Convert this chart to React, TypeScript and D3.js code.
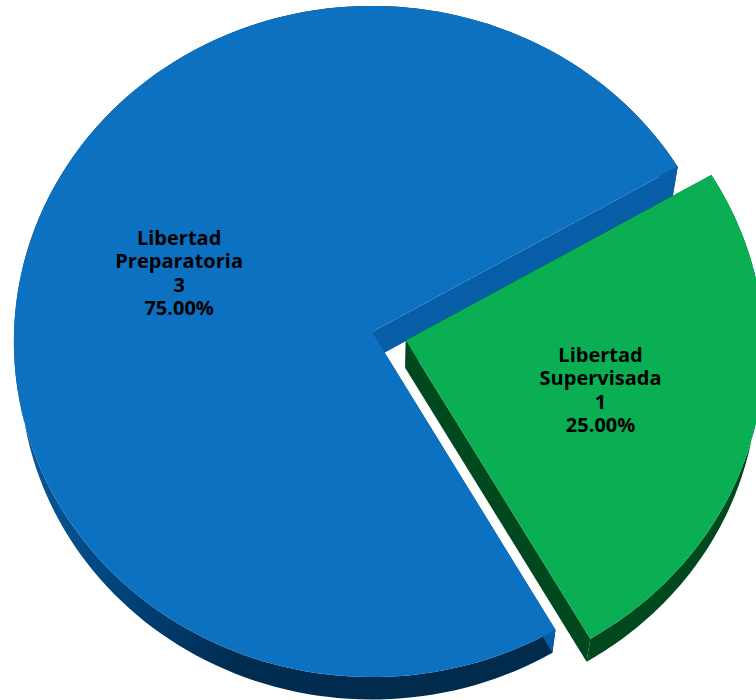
import React from "react";
import * as d3 from "d3";

const categories = ["Libertad Preparatoria", "Libertad Supervisada"];
const values = [3, 1];
const sliced = [false, true];
const topColors = ["#0c71c0", "#09af52"];
const wallColors = ["#075ea6", "#00491e"];
const sideColors = ["url(#blueSide)", "#00491e"];

const W = 756;
const H = 700;
const cx = 372;
const cy = 332;
const R = 358;
const alpha = (20.5 * Math.PI) / 180;
const D = 4428;
const depth = 80;
const explode = 35;
const labelFrac = 0.56;
const lineH = 23.5;

type Pt = [number, number];

function proj(u: number, v: number, h: number): Pt {
  const X = u;
  const Y = v * Math.cos(alpha) - h * depth * Math.sin(alpha);
  const Z = v * Math.sin(alpha) + h * depth * Math.cos(alpha);
  const s = D / (D + Z);
  return [cx + X * s, cy - Y * s];
}

function pathOf(pts: Pt[]): string {
  return "M" + pts.map((p) => p[0].toFixed(2) + "," + p[1].toFixed(2)).join("L") + "Z";
}

export default function App() {
  const pie = d3
    .pie<number>()
    .sort(null)
    .startAngle((150 * Math.PI) / 180)
    .endAngle((510 * Math.PI) / 180);
  const arcs = pie(values);
  const total = d3.sum(values);

  const slices = arcs.map((a, i) => {
    const mid = (a.startAngle + a.endAngle) / 2;
    const ox = sliced[i] ? explode * Math.sin(mid) : 0;
    const oy = sliced[i] ? explode * Math.cos(mid) : 0;
    const rim = (t: number, h: number) =>
      proj(ox + R * Math.sin(t), oy + R * Math.cos(t), h);
    const n = 160;
    const ts = d3.range(n + 1).map((k) => a.startAngle + ((a.endAngle - a.startAngle) * k) / n);
    const topPts: Pt[] = [proj(ox, oy, 0), ...ts.map((t) => rim(t, 0))];
    const band: Pt[] = [...ts.map((t) => rim(t, 0)), ...ts.slice().reverse().map((t) => rim(t, 1))];
    const wall = (t: number): Pt[] => [proj(ox, oy, 0), rim(t, 0), rim(t, 1), proj(ox, oy, 1)];
    const lr = R * labelFrac;
    const lp = proj(ox + lr * Math.sin(mid), oy + lr * Math.cos(mid), 0);
    const nudge = i === 0 ? -11 : 0;
    const words = categories[i].split(" ");
    const lines = [words[0], words.slice(1).join(" "), String(values[i]), ((values[i] / total) * 100).toFixed(2) + "%"];
    return {
      i,
      top: pathOf(topPts),
      band: pathOf(band),
      walls: [pathOf(wall(a.startAngle)), pathOf(wall(a.endAngle))],
      label: [lp[0], lp[1] + nudge] as Pt,
      lines,
    };
  });

  return (
    <svg
      width={W}
      height={H}
      viewBox={`0 0 ${W} ${H}`}
      style={{ position: "absolute", left: 0, top: 0, display: "block", background: "#ffffff" }}
    >
      <defs>
        <linearGradient id="blueSide" gradientUnits="userSpaceOnUse" x1={14} y1={0} x2={420} y2={0}>
          <stop offset="0%" stopColor="#0a5a9c" />
          <stop offset="25%" stopColor="#00447c" />
          <stop offset="55%" stopColor="#002c50" />
          <stop offset="100%" stopColor="#002b4d" />
        </linearGradient>
      </defs>
      {slices.map((s) => (
        <path key={"band" + s.i} d={s.band} fill={sideColors[s.i]} />
      ))}
      {slices.map((s) =>
        s.walls.map((w, k) => <path key={"wall" + s.i + k} d={w} fill={wallColors[s.i]} />)
      )}
      {slices.map((s) => (
        <path key={"top" + s.i} d={s.top} fill={topColors[s.i]} />
      ))}
      {slices.map((s) => (
        <text
          key={"lab" + s.i}
          textAnchor="middle"
          fontFamily="'Open Sans', sans-serif"
          fontWeight={700}
          fontSize={20}
          fill="#000000"
        >
          {s.lines.map((ln, k) => (
            <tspan key={k} x={s.label[0]} y={s.label[1] + (k - 1.5) * lineH} dominantBaseline="central">
              {ln}
            </tspan>
          ))}
        </text>
      ))}
    </svg>
  );
}
